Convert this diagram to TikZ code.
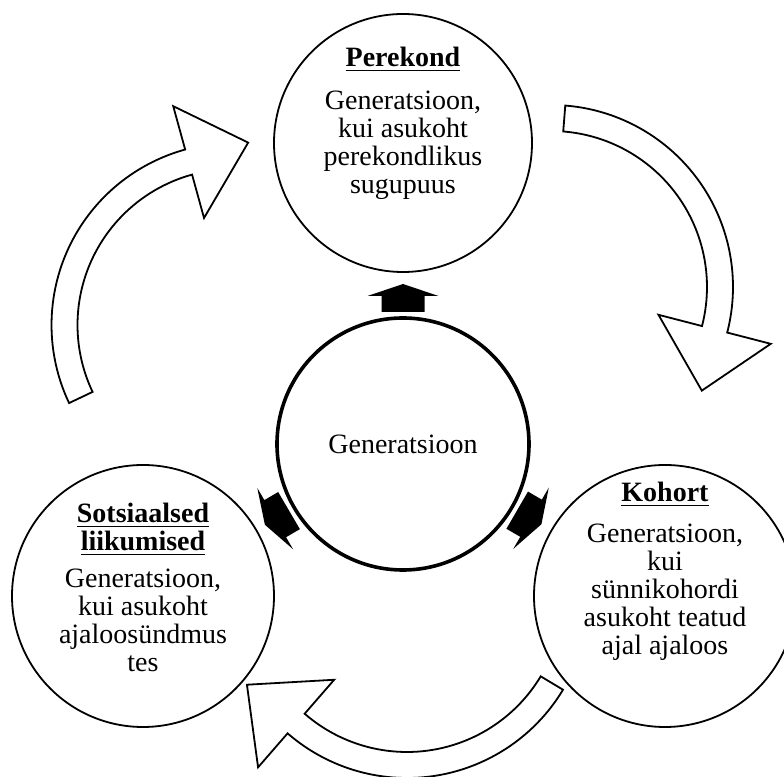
\documentclass[tikz,border=0pt]{standalone}
\usepackage{fontspec}
\setmainfont{Liberation Serif}
\usetikzlibrary{positioning}

\newcommand{\headline}[1]{\underline{\textbf{#1}}}
% curved hollow arrow: #1 centre of the bend, #2 angle of the tail
\newcommand{\cyclearrow}[2]{%
    \begin{scope}[shift={#1}]
        \draw[hollowarrow] (#2:182) arc[start angle=#2, delta angle=-100, radius=182]
            -- ({#2-100}:227) -- ({#2-120}:183) -- ({#2-100}:111) -- ({#2-100}:156)
            arc[start angle={#2-100}, delta angle=100, radius=156] -- cycle;
    \end{scope}}

\begin{document}
\begin{tikzpicture}[x=0.5pt, y=0.5pt]
    % Define styles
    \tikzset{
        topic/.style={circle, draw, line width=0.9pt, inner sep=0pt, minimum size=131pt},
        core/.style={circle, draw, line width=1.8pt, inner sep=0pt, minimum size=126pt},
        caption/.style={align=center, inner sep=0pt, font=\fontsize{14}{14}\selectfont},
        hollowarrow/.style={draw, line width=0.9pt, fill=white, line join=miter},
        pusharrow/.style={fill=black}
    }
    \clip (0,0) rectangle (784,777);

    % Cycle arrows
    \cyclearrow{(551,490)}{85.5}
    \cyclearrow{(407,181)}{-31}
    \cyclearrow{(233.5,452)}{205.4}

    % Circles
    \node[core, caption] (gen) at (403,333) {Generatsioon};
    \node[topic, minimum size=129pt] (fam) at (403,634) {};
    \node[topic] (soc) at (143,181) {};
    \node[topic] (coh) at (665,181) {};

    % Texts
    \node[caption, below=17pt of fam.north] (famtext)
        {\headline{Perekond}\\[7.5pt] Generatsioon,\\ kui asukoht\\ perekondlikus\\ sugupuus};
    \node[caption, below=19.5pt of soc.north] (soctext)
        {\headline{Sotsiaalsed}\\ \headline{liikumised}\\[4.5pt] Generatsioon,\\ kui asukoht\\ ajaloosündmus\\ tes};
    \node[caption, below=9pt of coh.north] (cohtext)
        {\headline{Kohort}\\[6.5pt] Generatsioon,\\ kui\\ sünnikohordi\\ asukoht teatud\\ ajal ajaloos};

    % Block arrows from the centre
    \foreach \target/\ang in {fam/90, soc/210.3, coh/329.9} {
        \begin{scope}[shift={(gen.center)}, rotate=\ang]
            \fill[pusharrow] (132,-21.5) -- (148,-21.5) -- (148,-35.5) -- (160,0)
                -- (148,35.5) -- (148,21.5) -- (132,21.5) -- cycle;
        \end{scope}
    }
\end{tikzpicture}
\end{document}
